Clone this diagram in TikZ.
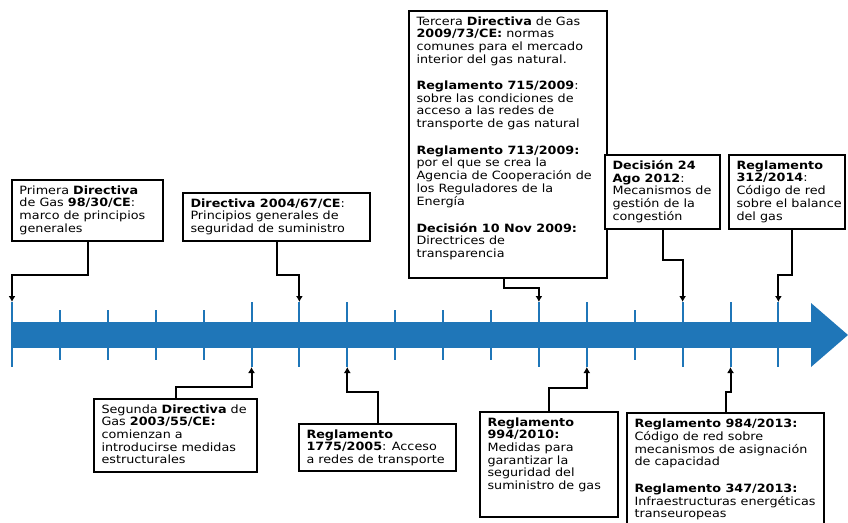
\documentclass[tikz,border=0pt]{standalone}
\usepackage{fontspec}
\setmainfont{DejaVu Sans}[FakeStretch=1.12]
\usetikzlibrary{arrows.meta}
\definecolor{axisblue}{RGB}{31,118,184}
\newcommand{\notesize}{\fontsize{11.4pt}{12.6pt}\selectfont}
% fixed-size, top-aligned block of explicit lines
\newcommand{\notetext}[3]{\parbox[t][#2][t]{#1}{\notesize\begin{tabular}[t]{@{}l@{}}#3\end{tabular}}}
\begin{document}
\begin{tikzpicture}[x=1pt,y=1pt,
  note/.style={draw=black, line width=1.6pt, fill=white, inner xsep=7.5pt,
    inner ysep=5.5pt, outer sep=0pt, anchor=north west},
  conn/.style={black, line width=2pt, -{Latex[length=6pt,width=7pt]}},
  tickmark/.style={axisblue, line width=2pt}]
\clip (0,0) rectangle (848,-522);
\fill[white] (0,0) rectangle (848,-522);

% time axis
\fill[axisblue] (12,-322) rectangle (813,-348);
\fill[axisblue] (811,-303) -- (848,-335) -- (811,-367) -- cycle;
\foreach \k in {0,...,16} {
  \coordinate (t\k) at ({12+47.9*\k},-335);
  \coordinate (up\k) at ({12+47.9*\k},-302);
  \coordinate (dn\k) at ({12+47.9*\k},-367);
}
\foreach \k in {1,2,3,4,8,9,10,13}
  \draw[tickmark] ([yshift=25]t\k) -- ([yshift=-25]t\k);
\foreach \k in {0,5,6,7,11,12,14,15,16}
  \draw[tickmark] (up\k) -- (dn\k);

% notes above the axis
\node[note] (b1) at (12,-180) {\notetext{136pt}{50pt}{%
  Primera \textbf{Directiva}\\ de Gas \textbf{98/30/CE}:\\ marco de principios\\ generales}};
\node[note] (b2) at (183,-193) {\notetext{172pt}{37pt}{%
  \textbf{Directiva 2004/67/CE}:\\ Principios generales de\\ seguridad de suministro}};
\node[note] (b3) at (409,-11) {\notetext{183pt}{256pt}{%
  Tercera \textbf{Directiva} de Gas\\ \textbf{2009/73/CE:} normas\\ comunes para el mercado\\ interior del gas natural.\\[14pt]
  \textbf{Reglamento 715/2009}:\\ sobre las condiciones de\\ acceso a las redes de\\ transporte de gas natural\\[14pt]
  \textbf{Reglamento 713/2009:}\\ por el que se crea la\\ Agencia de Cooperación de\\ los Reguladores de la\\ Energía\\[14pt]
  \textbf{Decisión 10 Nov 2009:}\\ Directrices de\\ transparencia}};
\node[note] (b4) at (605,-155) {\notetext{100pt}{63pt}{%
  \textbf{Decisión 24}\\ \textbf{Ago 2012}:\\ Mecanismos de\\ gestión de la\\ congestión}};
\node[note] (b5) at (729,-155) {\notetext{101pt}{63pt}{%
  \textbf{Reglamento}\\ \textbf{312/2014}:\\ Código de red\\ sobre el balance\\ del gas}};

% notes below the axis
\node[note] (b6) at (94,-399) {\notetext{148pt}{62pt}{%
  Segunda \textbf{Directiva} de\\ Gas \textbf{2003/55/CE:}\\ comienzan a\\ introducirse medidas\\ estructurales}};
\node[note] (b7) at (299,-424) {\notetext{142pt}{36pt}{%
  \textbf{Reglamento}\\ \textbf{1775/2005}: Acceso\\ a redes de transporte}};
\node[note] (b8) at (480,-412) {\notetext{123pt}{94pt}{%
  \textbf{Reglamento}\\ \textbf{994/2010:}\\ Medidas para\\ garantizar la\\ seguridad del\\ suministro de gas}};
\node[note] (b9) at (627,-413) {\notetext{182pt}{125pt}{%
  \textbf{Reglamento 984/2013:}\\ Código de red sobre\\ mecanismos de asignación\\ de capacidad\\[14pt]
  \textbf{Reglamento 347/2013:}\\ Infraestructuras energéticas\\ transeuropeas}};

% connectors to the axis
\draw[conn] (b1.south) -- ++(0,-34) -| (up0);
\draw[conn] (b2.south) -- ++(0,-34) -| (up6);
\draw[conn] ([xshift=-4pt]b3.south) -- ++(0,-10) -| (up11);
\draw[conn] (b4.south) -- ++(0,-31) -| (up14);
\draw[conn] ([xshift=5pt]b5.south) -- ++(0,-46) -| (up16);
\draw[conn] (b6.north) -- ++(0,12) -| (dn5);
\draw[conn] (b7.north) -- ++(0,32) -| (dn7);
\draw[conn] (b8.north) -- ++(0,24) -| (dn12);
\draw[conn] (b9.north) -- ++(0,21) -| (dn15);
\end{tikzpicture}
\end{document}
